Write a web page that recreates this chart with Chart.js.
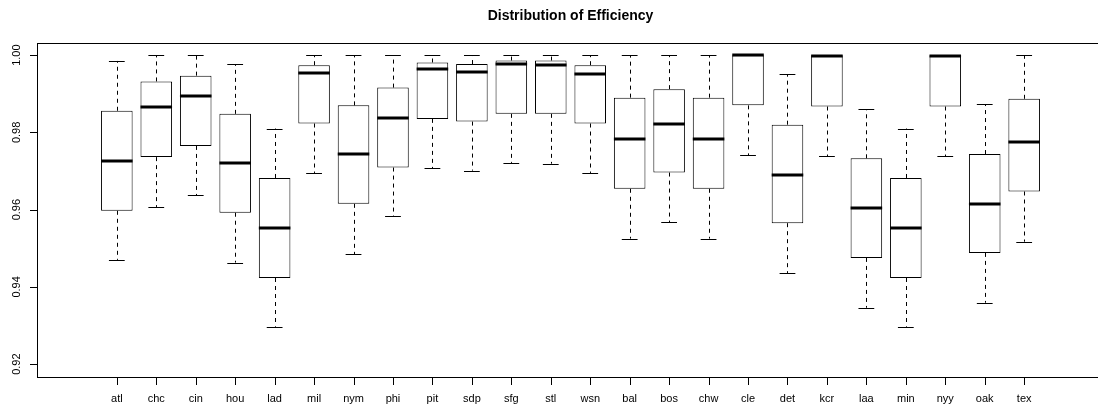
<!DOCTYPE html>
<html>
<head>
<meta charset="utf-8">
<script src="https://cdn.jsdelivr.net/npm/chart.js@4/dist/chart.umd.min.js"></script>
<style>
  html, body { margin: 0; padding: 0; background: #fff; overflow: hidden; }
  #wrap { width: 1098px; height: 407px; overflow: hidden; }
</style>
</head>
<body>
<div id="wrap"><canvas id="chart" width="1106" height="407"></canvas></div>
<script>
// teams on the x axis
const teams = ['atl', 'chc', 'cin', 'hou', 'lad', 'mil', 'nym', 'phi', 'pit', 'sdp', 'sfg', 'stl',
  'wsn', 'bal', 'bos', 'chw', 'cle', 'det', 'kcr', 'laa', 'min', 'nyy', 'oak', 'tex'];

// box stats
const whiskerLow = [0.9470, 0.9607, 0.9637, 0.9463, 0.9297, 0.9695, 0.9485, 0.9583, 0.9707, 0.9701, 0.9721, 0.9719,
  0.9695, 0.9525, 0.9567, 0.9525, 0.9741, 0.9436, 0.9738, 0.9346, 0.9297, 0.9738, 0.9359, 0.9517];
const q1 = [0.9597, 0.9736, 0.9765, 0.9592, 0.9423, 0.9823, 0.9615, 0.9709, 0.9835, 0.9828, 0.9848, 0.9848,
  0.9823, 0.9654, 0.9696, 0.9654, 0.9870, 0.9565, 0.9867, 0.9475, 0.9423, 0.9867, 0.9488, 0.9647];
const median = [0.9727, 0.9865, 0.9895, 0.9721, 0.9553, 0.9953, 0.9744, 0.9837, 0.9965, 0.9957, 0.9977, 0.9974,
  0.9950, 0.9783, 0.9823, 0.9783, 1.0000, 0.9691, 0.9997, 0.9604, 0.9553, 0.9997, 0.9615, 0.9776];
const q3 = [0.9856, 0.9932, 0.9947, 0.9848, 0.9682, 0.9974, 0.9870, 0.9916, 0.9981, 0.9977, 0.9986, 0.9986,
  0.9974, 0.9890, 0.9912, 0.9890, 1.0000, 0.9820, 1.0000, 0.9733, 0.9682, 1.0000, 0.9744, 0.9887];
const whiskerHigh = [0.9985, 1.0000, 1.0000, 0.9977, 0.9810, 1.0000, 1.0000, 1.0000, 1.0000, 1.0000, 1.0000, 1.0000,
  1.0000, 1.0000, 1.0000, 1.0000, 1.0000, 0.9950, 1.0000, 0.9860, 0.9810, 1.0000, 0.9873, 1.0000];

const yTicks = [0.92, 0.94, 0.96, 0.98, 1.00];

const font = '"Liberation Sans", Arial, sans-serif';

// whiskers, staples and medians on top of the floating bars
const boxExtras = {
  id: 'boxExtras',
  afterDatasetsDraw(chart) {
    const ctx = chart.ctx;
    const xs = chart.scales.x, ys = chart.scales.y;
    const crisp = v => Math.round(v) + 0.5;
    ctx.save();
    ctx.strokeStyle = '#000';
    teams.forEach((t, i) => {
      const x = xs.getPixelForValue(i + 1);
      const half = xs.getPixelForValue(i + 1.4) - x;
      const staple = half / 2;
      const cx = crisp(x);
      const yLo = ys.getPixelForValue(whiskerLow[i]);
      const yQ1 = ys.getPixelForValue(q1[i]);
      const yQ3 = ys.getPixelForValue(q3[i]);
      const yHi = ys.getPixelForValue(whiskerHigh[i]);
      ctx.lineWidth = 1;
      ctx.setLineDash([4, 4]);
      ctx.beginPath();
      ctx.moveTo(cx, yQ3); ctx.lineTo(cx, yHi);
      ctx.moveTo(cx, yQ1); ctx.lineTo(cx, yLo);
      ctx.stroke();
      ctx.setLineDash([]);
      ctx.beginPath();
      ctx.moveTo(x - staple, crisp(yHi)); ctx.lineTo(x + staple, crisp(yHi));
      ctx.moveTo(x - staple, crisp(yLo)); ctx.lineTo(x + staple, crisp(yLo));
      ctx.stroke();
      ctx.lineWidth = 3;
      ctx.lineCap = 'butt';
      ctx.beginPath();
      const ym = Math.round(ys.getPixelForValue(median[i]));
      ctx.moveTo(x - half, ym); ctx.lineTo(x + half, ym);
      ctx.stroke();
    });
    ctx.restore();
  },
  afterDraw(chart) {
    const ctx = chart.ctx;
    const a = chart.chartArea;
    const xs = chart.scales.x, ys = chart.scales.y;
    ctx.save();
    ctx.setLineDash([]);
    ctx.strokeStyle = '#000';
    ctx.lineWidth = 1;
    ctx.strokeRect(Math.round(a.left) + 0.5, Math.round(a.top) + 0.5,
      Math.round(a.right - a.left), Math.round(a.bottom - a.top));
    // axis tick marks
    ctx.fillStyle = '#000';
    const left = Math.round(a.left), bottom = Math.round(a.bottom);
    teams.forEach((t, i) => {
      const x = Math.round(xs.getPixelForValue(i + 1));
      ctx.fillRect(x, bottom, 1, 8);
    });
    yTicks.forEach(v => {
      const y = Math.round(ys.getPixelForValue(v));
      ctx.fillRect(left - 7, y, 8, 1);
    });
    // rotated y labels like base R
    ctx.font = '11px ' + font;
    ctx.textAlign = 'center';
    ctx.textBaseline = 'alphabetic';
    yTicks.forEach(v => {
      ctx.save();
      ctx.translate(20, ys.getPixelForValue(v));
      ctx.rotate(-Math.PI / 2);
      ctx.fillText(v.toFixed(2), 0, 0);
      ctx.restore();
    });
    ctx.restore();
  }
};

const ctx = document.getElementById('chart').getContext('2d');
const chart = new Chart(ctx, {
  type: 'bar',
  data: {
    datasets: [{
      label: 'Efficiency',
      data: teams.map((t, i) => ({ x: i + 1, y: [q1[i], q3[i]] })),
      backgroundColor: '#fff',
      borderColor: '#000',
      borderWidth: 1,
      borderSkipped: false,
      barPercentage: 0.8,
      categoryPercentage: 1
    }]
  },
  options: {
    responsive: false,
    animation: false,
    layout: { padding: { left: 0, right: 2, top: 0, bottom: 0 } },
    plugins: {
      legend: { display: false },
      tooltip: { enabled: false },
      title: {
        display: true,
        text: 'Distribution of Efficiency',
        fullSize: false,
        color: '#000',
        font: { family: font, size: 14, weight: 'bold' },
        padding: { top: 8, bottom: 18 }
      }
    },
    scales: {
      x: {
        type: 'linear',
        min: -0.46,
        max: 25.46,
        afterBuildTicks: s => { s.ticks = teams.map((t, i) => ({ value: i + 1 })); },
        afterFit: s => { s.height = 30.5; },
        border: { display: false },
        grid: { display: false, drawTicks: false },
        ticks: {
          autoSkip: false, maxRotation: 0, minRotation: 0, padding: 16,
          color: '#000', font: { family: font, size: 11 },
          callback: (v, i) => teams[i]
        }
      },
      y: {
        min: 0.9168,
        max: 1.0032,
        afterBuildTicks: s => { s.ticks = yTicks.map(v => ({ value: v })); },
        afterFit: s => { s.width = 37; },
        border: { display: false },
        grid: { display: false },
        ticks: { display: false }
      }
    }
  },
  plugins: [boxExtras]
});
</script>
</body>
</html>
